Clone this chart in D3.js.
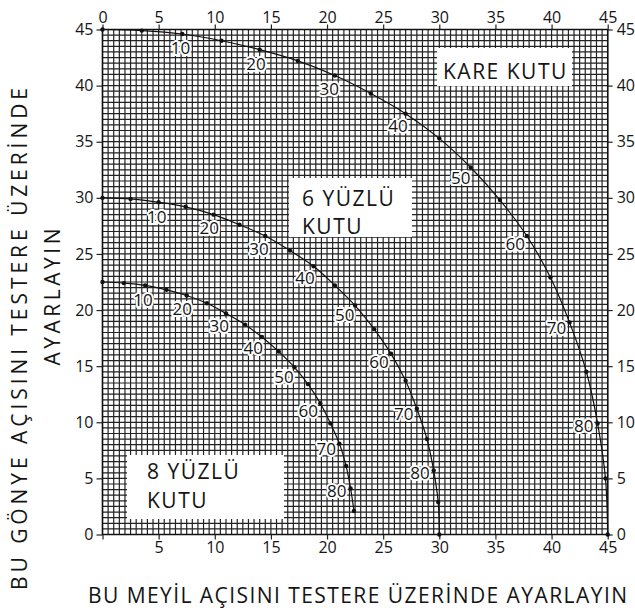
<!DOCTYPE html>
<html>
<head>
<meta charset="utf-8">
<script src="https://cdn.jsdelivr.net/npm/d3@7/dist/d3.min.js"></script>
<style>
  html, body { margin: 0; padding: 0; background: #fff; }
  svg { display: block; }
  text { font-family: "Open Sans", "Noto Sans", sans-serif; fill: #151515; }
</style>
</head>
<body>
<svg id="chart" width="635" height="610"></svg>
<script>
// Slope angle of the box sides, one point every 5 degrees
const slopeAngles = [0, 5, 10, 15, 20, 25, 30, 35, 40, 45, 50, 55, 60, 65, 70, 75, 80, 85, 90];
const slopeLabels = [10, 20, 30, 40, 50, 60, 70, 80];

// Square box (4 sides): bevel (x) and miter (y) per slope angle
const squareBevel = [0, 3.5, 7.1, 10.6, 14.0, 17.4, 20.7, 23.9, 27.0, 30.0, 32.8, 35.4, 37.8, 39.9, 41.6, 43.1, 44.1, 44.8, 45.0];
const squareMiter = [45.0, 44.9, 44.6, 44.0, 43.2, 42.2, 40.9, 39.3, 37.5, 35.3, 32.7, 29.8, 26.6, 22.9, 18.9, 14.5, 9.9, 5.0, 0];

// Six-sided box
const hexBevel = [0, 2.5, 5.0, 7.4, 9.9, 12.2, 14.5, 16.7, 18.8, 20.7, 22.5, 24.2, 25.7, 27.0, 28.0, 28.9, 29.5, 29.9, 30.0];
const hexMiter = [30.0, 29.9, 29.6, 29.2, 28.5, 27.6, 26.6, 25.3, 23.9, 22.2, 20.4, 18.3, 16.1, 13.7, 11.2, 8.5, 5.7, 2.9, 0];

// Eight-sided box (drawn up to 85 degrees)
const octBevel = [0, 1.9, 3.8, 5.7, 7.5, 9.3, 11.0, 12.7, 14.2, 15.7, 17.1, 18.3, 19.4, 20.3, 21.1, 21.7, 22.1, 22.4];
const octMiter = [22.5, 22.4, 22.2, 21.8, 21.3, 20.6, 19.7, 18.7, 17.6, 16.3, 14.9, 13.4, 11.7, 9.9, 8.1, 6.1, 4.1, 2.1];

const axisTicks = [0, 5, 10, 15, 20, 25, 30, 35, 40, 45];
const gridSteps = d3.range(0, 45.01, 0.5);

const svg = d3.select("#chart");
const x = d3.scaleLinear().domain([0, 45]).range([102.5, 607.7]);
const y = d3.scaleLinear().domain([0, 45]).range([534.5, 29.5]);

// Fine grid
const grid = svg.append("g").attr("stroke", "#222").attr("stroke-width", 1.2);
grid.selectAll("line.v").data(gridSteps).join("line").attr("class", "v")
  .attr("x1", d => x(d)).attr("x2", d => x(d)).attr("y1", y(0)).attr("y2", y(45));
grid.selectAll("line.h").data(gridSteps).join("line").attr("class", "h")
  .attr("y1", d => y(d)).attr("y2", d => y(d)).attr("x1", x(0)).attr("x2", x(45));

// Frame
svg.append("rect").attr("x", x(0)).attr("y", y(45))
  .attr("width", x(45) - x(0)).attr("height", y(0) - y(45))
  .attr("fill", "none").attr("stroke", "#111").attr("stroke-width", 1.5);

// Axes on all four sides
function styleAxis(g) {
  g.select(".domain").remove();
  g.selectAll(".tick line").attr("stroke", "#222").attr("stroke-width", 1.2);
  g.selectAll(".tick text").attr("font-size", 16).attr("fill", "#151515")
    .attr("font-family", "'Open Sans', sans-serif");
}
svg.append("g").attr("transform", `translate(${x(0)},0)`)
  .call(d3.axisLeft(y).tickValues(axisTicks).tickSize(6).tickPadding(3)).call(styleAxis);
svg.append("g").attr("transform", `translate(${x(45)},0)`)
  .call(d3.axisRight(y).tickValues(axisTicks).tickSize(5).tickPadding(4)).call(styleAxis);
svg.append("g").attr("transform", `translate(0,${y(45)})`)
  .call(d3.axisTop(x).tickValues(axisTicks).tickSize(5).tickPadding(2)).call(styleAxis);
svg.append("g").attr("transform", `translate(0,${y(0)})`)
  .call(d3.axisBottom(x).tickValues(axisTicks).tickSize(5).tickPadding(2)
    .tickFormat(d => d === 0 ? "" : d)).call(styleAxis);

// Box name panels
function panel(x0, y0, w, h, lines, tx, baselines) {
  svg.append("rect").attr("x", x0).attr("y", y0).attr("width", w).attr("height", h).attr("fill", "#fff");
  lines.forEach((t, i) => {
    svg.append("text").attr("x", tx).attr("y", baselines[i])
      .attr("font-size", 21).attr("letter-spacing", 1.5).text(t);
  });
}
panel(437, 48, 135, 38, ["KARE KUTU"], 443, [79]);
panel(289, 178, 123, 59, ["6 YÜZLÜ", "KUTU"], 302, [206, 234]);
panel(127, 455, 157, 64, ["8 YÜZLÜ", "KUTU"], 147, [479, 508]);

// Curves, dots and slope labels
const series = [
  { bevel: squareBevel, miter: squareMiter },
  { bevel: hexBevel, miter: hexMiter },
  { bevel: octBevel, miter: octMiter }
];
const line = d3.line().x(d => x(d[0])).y(d => y(d[1])).curve(d3.curveCatmullRom.alpha(0.5));

series.forEach(s => {
  const pts = s.bevel.map((b, i) => [b, s.miter[i], slopeAngles[i]]);
  svg.append("path").datum(pts).attr("d", line)
    .attr("fill", "none").attr("stroke", "#111").attr("stroke-width", 1.2);
  svg.append("g").selectAll("circle").data(pts).join("circle")
    .attr("cx", d => x(d[0])).attr("cy", d => y(d[1])).attr("r", 2.2).attr("fill", "#111");

  const lab = svg.append("g");
  pts.forEach((p, i) => {
    if (!slopeLabels.includes(p[2])) return;
    const a = pts[Math.max(0, i - 1)], b = pts[Math.min(pts.length - 1, i + 1)];
    let tx = x(b[0]) - x(a[0]), ty = y(b[1]) - y(a[1]);
    const len = Math.hypot(tx, ty); tx /= len; ty /= len;
    let nx = ty, ny = -tx;
    if (ny - nx < 0) { nx = -nx; ny = -ny; }
    const off = 14;
    lab.append("text")
      .attr("x", x(p[0]) + nx * off).attr("y", y(p[1]) + ny * off)
      .attr("text-anchor", "middle").attr("dominant-baseline", "central")
      .attr("font-size", 17)
      .attr("stroke", "#fff").attr("stroke-width", 4).attr("paint-order", "stroke")
      .attr("stroke-linejoin", "round")
      .text(p[2]);
  });
});

// Axis titles
svg.append("text").attr("x", 357.5).attr("y", 603).attr("text-anchor", "middle")
  .attr("font-size", 21).attr("textLength", 539).attr("lengthAdjust", "spacing")
  .text("BU MEYİL AÇISINI TESTERE ÜZERİNDE AYARLAYIN");
svg.append("text").attr("transform", "translate(27,339) rotate(-90)").attr("text-anchor", "middle")
  .attr("font-size", 21).attr("textLength", 502).attr("lengthAdjust", "spacing")
  .text("BU GÖNYE AÇISINI TESTERE ÜZERİNDE");
svg.append("text").attr("transform", "translate(60,297) rotate(-90)").attr("text-anchor", "middle")
  .attr("font-size", 21).attr("textLength", 137).attr("lengthAdjust", "spacing")
  .text("AYARLAYIN");
</script>
</body>
</html>
